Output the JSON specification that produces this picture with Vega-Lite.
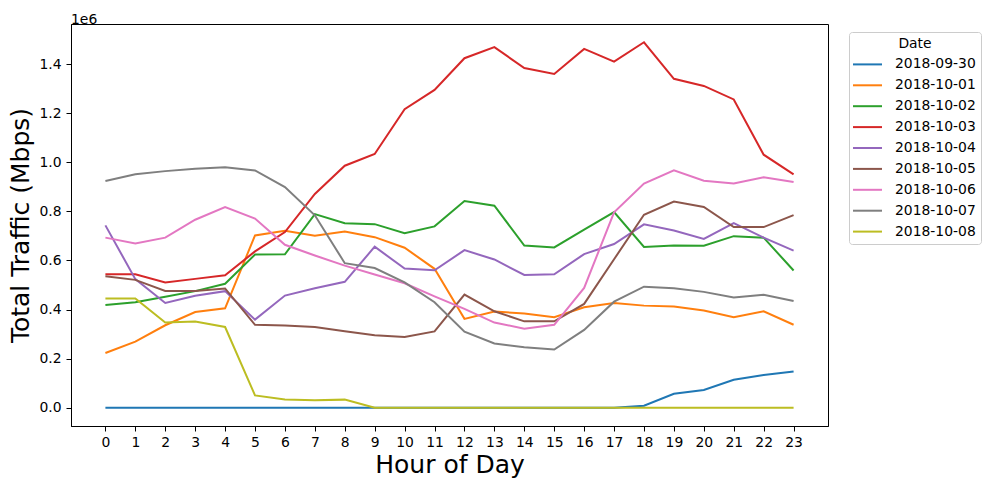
{
  "$schema": "https://vega.github.io/schema/vega-lite/v6.json",
  "autosize": "none",
  "width": 757,
  "height": 402,
  "padding": {"left": 71, "top": 24, "right": 161, "bottom": 63},
  "background": "white",
  "title": {"text": "1e6", "anchor": "start", "frame": "group", "fontSize": 13.9, "font": "DejaVu Sans", "fontWeight": "normal", "color": "black", "baseline": "alphabetic", "offset": 3, "dy": 17},
  "data": {
    "values": [
      {"hour": 0, "2018-09-30": 0, "2018-10-01": 223000, "2018-10-02": 419000, "2018-10-03": 544000, "2018-10-04": 743000, "2018-10-05": 536000, "2018-10-06": 693000, "2018-10-07": 924000, "2018-10-08": 445000},
      {"hour": 1, "2018-09-30": 0, "2018-10-01": 269000, "2018-10-02": 430000, "2018-10-03": 544000, "2018-10-04": 524000, "2018-10-05": 521000, "2018-10-06": 669000, "2018-10-07": 951000, "2018-10-08": 445000},
      {"hour": 2, "2018-09-30": 0, "2018-10-01": 336000, "2018-10-02": 452000, "2018-10-03": 510000, "2018-10-04": 427000, "2018-10-05": 476000, "2018-10-06": 693000, "2018-10-07": 964000, "2018-10-08": 347000},
      {"hour": 3, "2018-09-30": 0, "2018-10-01": 390000, "2018-10-02": 475000, "2018-10-03": 525000, "2018-10-04": 456000, "2018-10-05": 476000, "2018-10-06": 766000, "2018-10-07": 974000, "2018-10-08": 351000},
      {"hour": 4, "2018-09-30": 0, "2018-10-01": 405000, "2018-10-02": 505000, "2018-10-03": 540000, "2018-10-04": 475000, "2018-10-05": 486000, "2018-10-06": 818000, "2018-10-07": 980000, "2018-10-08": 329000},
      {"hour": 5, "2018-09-30": 0, "2018-10-01": 702000, "2018-10-02": 624000, "2018-10-03": 637000, "2018-10-04": 359000, "2018-10-05": 338000, "2018-10-06": 771000, "2018-10-07": 967000, "2018-10-08": 50000},
      {"hour": 6, "2018-09-30": 0, "2018-10-01": 721000, "2018-10-02": 625000, "2018-10-03": 716000, "2018-10-04": 457000, "2018-10-05": 335000, "2018-10-06": 664000, "2018-10-07": 899000, "2018-10-08": 34000},
      {"hour": 7, "2018-09-30": 0, "2018-10-01": 701000, "2018-10-02": 789000, "2018-10-03": 871000, "2018-10-04": 487000, "2018-10-05": 329000, "2018-10-06": 620000, "2018-10-07": 784000, "2018-10-08": 30000},
      {"hour": 8, "2018-09-30": 0, "2018-10-01": 718000, "2018-10-02": 752000, "2018-10-03": 986000, "2018-10-04": 513000, "2018-10-05": 312000, "2018-10-06": 579000, "2018-10-07": 589000, "2018-10-08": 33000},
      {"hour": 9, "2018-09-30": 0, "2018-10-01": 695000, "2018-10-02": 748000, "2018-10-03": 1034000, "2018-10-04": 656000, "2018-10-05": 295000, "2018-10-06": 543000, "2018-10-07": 569000, "2018-10-08": 0},
      {"hour": 10, "2018-09-30": 0, "2018-10-01": 652000, "2018-10-02": 711000, "2018-10-03": 1216000, "2018-10-04": 567000, "2018-10-05": 288000, "2018-10-06": 507000, "2018-10-07": 511000, "2018-10-08": 0},
      {"hour": 11, "2018-09-30": 0, "2018-10-01": 566000, "2018-10-02": 739000, "2018-10-03": 1295000, "2018-10-04": 560000, "2018-10-05": 311000, "2018-10-06": 454000, "2018-10-07": 430000, "2018-10-08": 0},
      {"hour": 12, "2018-09-30": 0, "2018-10-01": 362000, "2018-10-02": 842000, "2018-10-03": 1424000, "2018-10-04": 642000, "2018-10-05": 461000, "2018-10-06": 403000, "2018-10-07": 310000, "2018-10-08": 0},
      {"hour": 13, "2018-09-30": 0, "2018-10-01": 392000, "2018-10-02": 823000, "2018-10-03": 1469000, "2018-10-04": 604000, "2018-10-05": 393000, "2018-10-06": 347000, "2018-10-07": 262000, "2018-10-08": 0},
      {"hour": 14, "2018-09-30": 0, "2018-10-01": 384000, "2018-10-02": 661000, "2018-10-03": 1384000, "2018-10-04": 541000, "2018-10-05": 352000, "2018-10-06": 322000, "2018-10-07": 246000, "2018-10-08": 0},
      {"hour": 15, "2018-09-30": 0, "2018-10-01": 369000, "2018-10-02": 653000, "2018-10-03": 1360000, "2018-10-04": 544000, "2018-10-05": 352000, "2018-10-06": 338000, "2018-10-07": 237000, "2018-10-08": 0},
      {"hour": 16, "2018-09-30": 0, "2018-10-01": 409000, "2018-10-02": 726000, "2018-10-03": 1462000, "2018-10-04": 626000, "2018-10-05": 423000, "2018-10-06": 488000, "2018-10-07": 317000, "2018-10-08": 0},
      {"hour": 17, "2018-09-30": 0, "2018-10-01": 427000, "2018-10-02": 797000, "2018-10-03": 1410000, "2018-10-04": 667000, "2018-10-05": 605000, "2018-10-06": 796000, "2018-10-07": 432000, "2018-10-08": 0},
      {"hour": 18, "2018-09-30": 8000, "2018-10-01": 416000, "2018-10-02": 655000, "2018-10-03": 1489000, "2018-10-04": 747000, "2018-10-05": 786000, "2018-10-06": 913000, "2018-10-07": 493000, "2018-10-08": 0},
      {"hour": 19, "2018-09-30": 57000, "2018-10-01": 412000, "2018-10-02": 661000, "2018-10-03": 1340000, "2018-10-04": 722000, "2018-10-05": 840000, "2018-10-06": 967000, "2018-10-07": 487000, "2018-10-08": 0},
      {"hour": 20, "2018-09-30": 72000, "2018-10-01": 396000, "2018-10-02": 660000, "2018-10-03": 1311000, "2018-10-04": 688000, "2018-10-05": 818000, "2018-10-06": 925000, "2018-10-07": 472000, "2018-10-08": 0},
      {"hour": 21, "2018-09-30": 114000, "2018-10-01": 369000, "2018-10-02": 699000, "2018-10-03": 1256000, "2018-10-04": 752000, "2018-10-05": 736000, "2018-10-06": 914000, "2018-10-07": 449000, "2018-10-08": 0},
      {"hour": 22, "2018-09-30": 133000, "2018-10-01": 393000, "2018-10-02": 693000, "2018-10-03": 1031000, "2018-10-04": 693000, "2018-10-05": 736000, "2018-10-06": 939000, "2018-10-07": 460000, "2018-10-08": 0},
      {"hour": 23, "2018-09-30": 148000, "2018-10-01": 338000, "2018-10-02": 559000, "2018-10-03": 951000, "2018-10-04": 640000, "2018-10-05": 785000, "2018-10-06": 920000, "2018-10-07": 435000, "2018-10-08": 0}
    ]
  },
  "transform": [
    {"fold": ["2018-09-30", "2018-10-01", "2018-10-02", "2018-10-03", "2018-10-04", "2018-10-05", "2018-10-06", "2018-10-07", "2018-10-08"], "as": ["Date", "traffic"]}
  ],
  "mark": {"type": "line", "strokeWidth": 2, "clip": true},
  "encoding": {
    "x": {
      "field": "hour", "type": "quantitative",
      "scale": {"domain": [-1.15, 24.15], "nice": false, "zero": false},
      "axis": {"values": [0,1,2,3,4,5,6,7,8,9,10,11,12,13,14,15,16,17,18,19,20,21,22,23], "title": "Hour of Day", "labelAngle": 0, "labelPadding": 4, "titlePadding": 4, "format": "d"}
    },
    "y": {
      "field": "traffic", "type": "quantitative",
      "scale": {"domain": [-74450, 1563450], "nice": false, "zero": false},
      "axis": {"values": [0,200000,400000,600000,800000,1000000,1200000,1400000], "labelExpr": "format(datum.value/1000000, '.1f')", "title": "Total Traffic (Mbps)", "labelPadding": 5, "titlePadding": 5}
    },
    "color": {
      "field": "Date", "type": "nominal",
      "scale": {"domain": ["2018-09-30", "2018-10-01", "2018-10-02", "2018-10-03", "2018-10-04", "2018-10-05", "2018-10-06", "2018-10-07", "2018-10-08"], "range": ["#1f77b4", "#ff7f0e", "#2ca02c", "#d62728", "#9467bd", "#8c564b", "#e377c2", "#7f7f7f", "#bcbd22"]},
      "legend": {
        "orient": "none", "legendX": 778, "legendY": 8,
        "title": "Date", "titleAnchor": "middle",
        "symbolType": "M-2,0H2", "symbolSize": 210, "symbolStrokeWidth": 2, "symbolOffset": 5,
        "labelOffset": 19, "rowPadding": 4.9, "titlePadding": 5,
        "strokeColor": "#cccccc", "fillColor": "white", "cornerRadius": 3, "padding": 5
      }
    }
  },
  "config": {
    "font": "DejaVu Sans",
    "view": {"stroke": "black", "strokeWidth": 1},
    "axis": {
      "grid": false, "domainColor": "black", "tickColor": "black", "tickSize": 5, "tickWidth": 1,
      "labelFont": "DejaVu Sans", "labelFontSize": 13.9, "labelColor": "black",
      "titleFont": "DejaVu Sans", "titleFontSize": 25, "titleFontWeight": "normal", "titleColor": "black"
    },
    "legend": {
      "labelFont": "DejaVu Sans", "labelFontSize": 13.9, "labelColor": "black",
      "titleFont": "DejaVu Sans", "titleFontSize": 13.9, "titleFontWeight": "normal", "titleColor": "black"
    }
  }
}
